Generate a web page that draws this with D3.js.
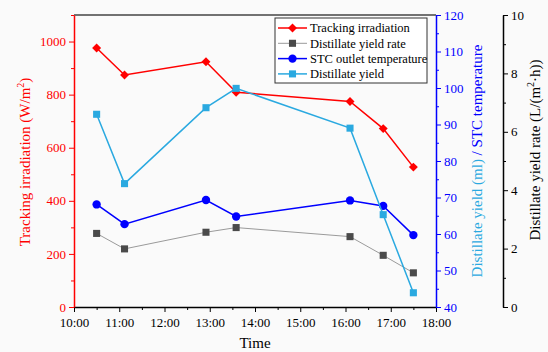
<!DOCTYPE html>
<html lang="en">
  <head>
    <meta charset="UTF-8" />
    <title>Tracking irradiation and distillate yield</title>
    <script src="https://d3js.org/d3.v7.min.js"></script>
    <style>
      body {
        margin: 0;
        background: #fafafa;
      }
      svg text {
        font-family: "Liberation Serif", "Times New Roman", serif;
      }
    </style>
  </head>
  <body>
    <svg id="chart" width="548" height="352"></svg>

    <script>
      // data
      const times = ["10:30", "11:07", "12:55", "13:35", "16:06", "16:50", "17:30"];
      const irradiation = [976, 874, 924, 809, 774, 672, 527];
      const yieldRate = [2.52, 1.99, 2.56, 2.72, 2.41, 1.77, 1.17];
      const stcTemp = [68.1, 62.7, 69.3, 64.8, 69.2, 67.7, 59.7];
      const distYield = [92.8, 73.8, 94.6, 99.9, 89.0, 65.3, 43.9];
      const xTickLabels = ["10:00", "11:00", "12:00", "13:00", "14:00", "15:00", "16:00", "17:00", "18:00"];

      const RED = "#ff0000", BLUE = "#0000ff", LIGHT = "#2aa9e0", GRAY = "#4a4a4a";
      const SERIF = "'Liberation Serif', 'Times New Roman', serif";

      const toHour = (s) => {
        const [h, m] = s.split(":").map(Number);
        return h + m / 60;
      };
      const hours = times.map(toHour);

      const svg = d3.select("#chart");
      const margin = { top: 15, left: 74, right: 436, bottom: 307 };

      const x = d3.scaleLinear().domain([10, 18]).range([margin.left, margin.right]);
      const yIrr = d3.scaleLinear().domain([0, 1100]).range([margin.bottom, margin.top]);
      const yTemp = d3.scaleLinear().domain([40, 120]).range([margin.bottom, margin.top]);
      const yRate = d3.scaleLinear().domain([0, 10]).range([margin.bottom, margin.top]);

      // top frame line
      svg.append("line")
        .attr("x1", margin.left).attr("x2", margin.right)
        .attr("y1", margin.top).attr("y2", margin.top)
        .attr("stroke", "#444").attr("stroke-width", 1.5);

      // helper for axis with minor ticks
      function drawAxis(axisFn, scale, major, minor, color, transform, fmt, pad) {
        const g = svg.append("g").attr("transform", transform);
        g.call(axisFn(scale).tickValues(minor).tickSize(3).tickFormat(""))
          .call((a) => a.select(".domain").remove());
        g.selectAll("line").attr("stroke", color);
        const m = svg.append("g").attr("transform", transform);
        m.call(axisFn(scale).tickValues(major).tickSize(5).tickSizeOuter(0).tickFormat(fmt).tickPadding(pad));
        m.attr("font-family", SERIF);
        m.select(".domain").attr("stroke", color).attr("stroke-width", 1.5);
        m.selectAll("line").attr("stroke", color);
        m.selectAll("text")
          .attr("fill", color)
          .style("font-family", SERIF)
          .style("font-size", "13px");
        return m;
      }

      // bottom axis
      drawAxis(d3.axisBottom, x, d3.range(10, 18.01, 1), d3.range(10.5, 18, 1), "#000",
        `translate(0,${margin.bottom})`, (d, i) => xTickLabels[i], 6);

      // left axis
      drawAxis(d3.axisLeft, yIrr, d3.range(0, 1001, 200), d3.range(100, 1101, 200), RED,
        `translate(${margin.left},0)`, d3.format("d"), 3);

      // right blue axis
      drawAxis(d3.axisRight, yTemp, d3.range(40, 121, 10), d3.range(45, 120, 10), BLUE,
        `translate(${margin.right},0)`, d3.format("d"), 3);

      // offset black axis
      drawAxis(d3.axisRight, yRate, d3.range(0, 11, 2), d3.range(1, 10, 2), "#000",
        `translate(503,0)`, d3.format("d"), 3);

      // axis titles
      svg.append("text")
        .attr("x", 255).attr("y", 348)
        .attr("text-anchor", "middle")
        .style("font-size", "15px")
        .text("Time");

      const lt = svg.append("text")
        .attr("transform", "translate(30,162) rotate(-90)")
        .attr("text-anchor", "middle")
        .attr("fill", RED)
        .style("font-size", "15px");
      lt.append("tspan").text("Tracking irradiation (W/m");
      lt.append("tspan").attr("dy", -6).style("font-size", "10px").text("2");
      lt.append("tspan").attr("dy", 6).text(")");

      const bt = svg.append("text")
        .attr("transform", "translate(482,161) rotate(-90)")
        .attr("text-anchor", "middle")
        .style("font-size", "15px");
      bt.append("tspan").attr("fill", LIGHT).text("Distillate yield (ml)");
      bt.append("tspan").attr("fill", BLUE).text(" / STC temperature");

      const rt = svg.append("text")
        .attr("transform", "translate(540,150) rotate(-90)")
        .attr("text-anchor", "middle")
        .attr("fill", "#000")
        .style("font-size", "15px");
      rt.append("tspan").text("Distillate yield rate (L/(m");
      rt.append("tspan").attr("dy", -6).style("font-size", "10px").text("2");
      rt.append("tspan").attr("dy", 6).text("\u00b7h))");

      // series
      const series = [
        { name: "Tracking irradiation", values: irradiation, y: yIrr, color: RED, lineColor: RED, width: 1.5, marker: "diamond" },
        { name: "Distillate yield rate", values: yieldRate, y: yRate, color: GRAY, lineColor: "#9a9a9a", width: 1, marker: "square" },
        { name: "STC outlet temperature", values: stcTemp, y: yTemp, color: BLUE, lineColor: BLUE, width: 1.5, marker: "circle" },
        { name: "Distillate yield", values: distYield, y: yTemp, color: LIGHT, lineColor: LIGHT, width: 1.5, marker: "square" },
      ];

      const symbols = {
        diamond: d3.symbol().type(d3.symbolSquare).size(40),
        square: d3.symbol().type(d3.symbolSquare).size(50),
        circle: d3.symbol().type(d3.symbolCircle).size(55),
      };
      const rot = (m) => (m === "diamond" ? " rotate(45)" : "");

      series.forEach((s) => {
        const line = d3.line().x((d, i) => x(hours[i])).y((d) => s.y(d));
        svg.append("path")
          .datum(s.values)
          .attr("d", line)
          .attr("fill", "none")
          .attr("stroke", s.lineColor)
          .attr("stroke-width", s.width);
        svg.append("g")
          .selectAll("path")
          .data(s.values)
          .enter()
          .append("path")
          .attr("d", symbols[s.marker])
          .attr("transform", (d, i) => `translate(${x(hours[i])},${s.y(d)})${rot(s.marker)}`)
          .attr("fill", s.color);
      });

      // legend
      const legend = svg.append("g").attr("transform", "translate(275,18)");
      legend.append("rect")
        .attr("width", 152).attr("height", 65)
        .attr("fill", "#fff").attr("stroke", "#333").attr("stroke-width", 1);
      series.forEach((s, i) => {
        const row = legend.append("g").attr("transform", `translate(0,${10 + i * 15.3})`);
        row.append("line")
          .attr("x1", 3).attr("x2", 32)
          .attr("stroke", s.lineColor).attr("stroke-width", s.width);
        row.append("path")
          .attr("d", symbols[s.marker])
          .attr("transform", `translate(17.5,0)${rot(s.marker)}`)
          .attr("fill", s.color);
        row.append("text")
          .attr("x", 35).attr("dy", "0.35em")
          .style("font-size", "12.5px")
          .text(s.name);
      });
    </script>
  </body>
</html>
